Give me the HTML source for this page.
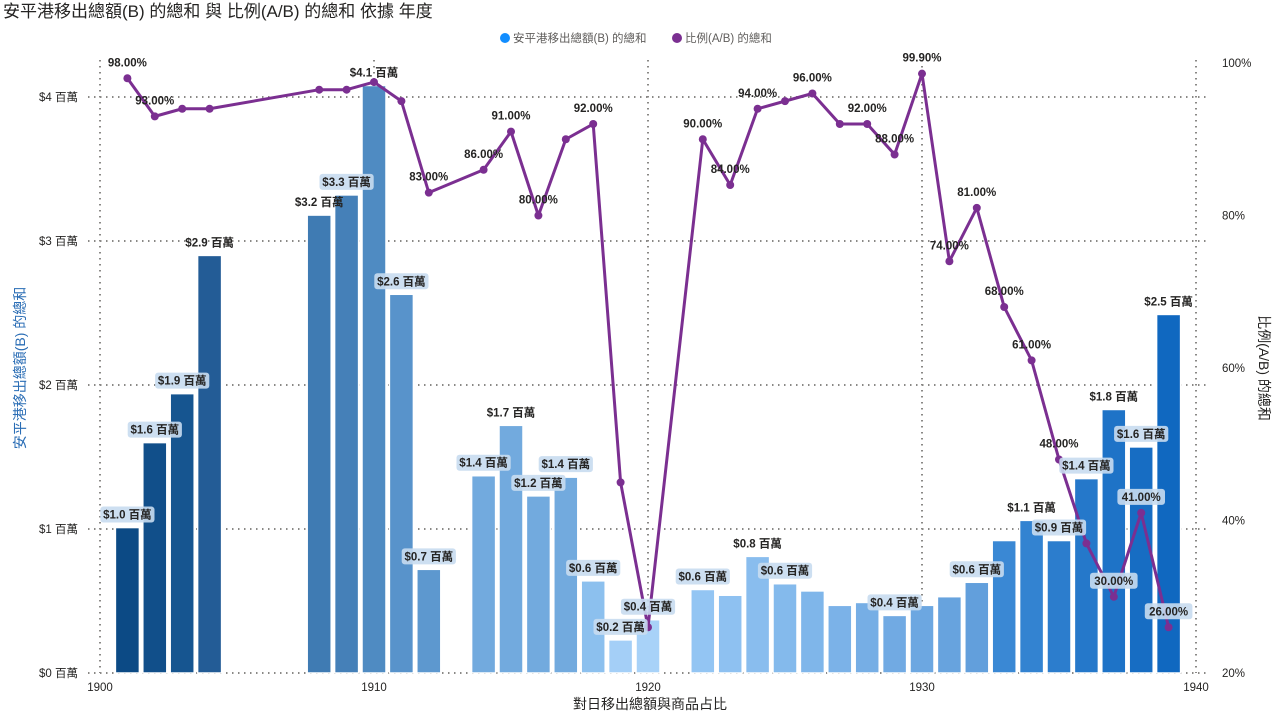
<!DOCTYPE html>
<html><head><meta charset="utf-8">
<style>
body{margin:0;background:#fff;width:1274px;height:713px;overflow:hidden;font-family:"Liberation Sans","Noto Sans CJK TC",sans-serif;}
svg text{font-family:"Liberation Sans","Noto Sans CJK TC",sans-serif;}
</style></head>
<body>
<svg id="chart" width="1274" height="713">
<text x="3" y="17" font-size="17" fill="#252423">安平港移出總額(B) 的總和 與 比例(A/B) 的總和 依據 年度</text>
<g>
<circle cx="505" cy="38" r="5" fill="#118dff"/>
<text x="513" y="42" font-size="11.5" fill="#605e5c">安平港移出總額(B) 的總和</text>
<circle cx="677" cy="38" r="5" fill="#7b2f91"/>
<text x="685" y="42" font-size="11.5" fill="#605e5c">比例(A/B) 的總和</text>
</g>
<text transform="translate(25,368) rotate(-90)" text-anchor="middle" font-size="14" fill="#2a6db5">安平港移出總額(B) 的總和</text>
<text transform="translate(1259,368) rotate(90)" text-anchor="middle" font-size="14" fill="#252423">比例(A/B) 的總和</text>
<text x="650" y="709" text-anchor="middle" font-size="14" fill="#252423">對日移出總額與商品占比</text>
<g id="grid"></g><g id="bars"></g><g id="line"></g><g id="labels"></g>
</svg>
<script>
const years=[1901,1902,1903,1904,1908,1909,1910,1911,1912,1914,1915,1916,1917,1918,1919,1920,1922,1923,1924,1925,1926,1927,1928,1929,1930,1931,1932,1933,1934,1935,1936,1937,1938,1939];
const amounts=[1.01,1.60,1.94,2.90,3.18,3.32,4.08,2.63,0.72,1.37,1.72,1.23,1.36,0.64,0.23,0.37,0.58,0.54,0.81,0.62,0.57,0.47,0.49,0.40,0.47,0.53,0.63,0.92,1.06,0.92,1.35,1.83,1.57,2.49];
const ratios=[98,93,94,94,96.5,96.5,97.5,95,83,86,91,80,90,92,45,26,90,84,94,95,96,92,92,88,98.6,74,81,68,61,48,37,30,41,26];
const ratioText=[98,93,94,94,96.5,96.5,97.5,95,83,86,91,80,90,92,45,26,90,84,94,95,96,92,92,88,99.9,74,81,68,61,48,37,30,41,26];
const amountLabelYears=[1901,1902,1903,1904,1908,1909,1910,1911,1912,1914,1915,1916,1917,1918,1919,1920,1922,1924,1925,1929,1932,1934,1935,1936,1937,1938,1939];
const ratioLabelYears=[1901,1902,1912,1914,1915,1916,1918,1922,1923,1924,1926,1928,1929,1930,1931,1932,1933,1934,1935,1937,1938,1939];
const xTicks=[1900,1910,1920,1930,1940];
const yTicksLeft=[0,1,2,3,4];
const yTicksRight=[20,40,60,80,100];

const NS="http://www.w3.org/2000/svg";
const X=y=>100+(y-1900)*27.4;
const YL=v=>673-v*144;
const YR=p=>673-(p-20)*7.625;
function mk(tag,attrs,parent,txt){const e=document.createElementNS(NS,tag);for(const k in attrs)e.setAttribute(k,attrs[k]);if(txt!==undefined)e.textContent=txt;parent.appendChild(e);return e;}
const grid=document.getElementById('grid'),bars=document.getElementById('bars'),line=document.getElementById('line'),labels=document.getElementById('labels');
const dot={stroke:"#8a8886","stroke-width":2,"stroke-dasharray":"1.5 4.5",fill:"none"};
yTicksLeft.forEach(v=>{
 const l=mk('line',Object.assign({x1:88,x2:1210,y1:YL(v),y2:YL(v)},dot),grid);
 
 
 const t=mk('text',{x:78,y:YL(v)+4,"text-anchor":"end","font-size":11.5,fill:"#252423"},grid,"$"+v+" 百萬");
 
 
});
yTicksRight.forEach(p=>{
 const t=mk('text',{x:1222,y:YR(p)+4,"font-size":11.5,fill:"#252423"},grid,p+"%");
 
 
});
xTicks.forEach(y=>{
 const l=mk('line',Object.assign({x1:X(y),x2:X(y),y1:60,y2:673},dot),grid);
 
 
 const t=mk('text',{x:X(y),y:691,"text-anchor":"middle","font-size":11.5,fill:"#252423"},grid,String(y));
 
 
});
function barColor(y){
 if(y<=1904) return ["#0c4a85","#114f8a","#165590","#235c96"][y-1901];
 if(y<=1912) return ["#3f7bb3","#4580b8","#4f8bc2","#5893cb","#5d98cf"][y-1908];
 if(y<=1917) return "#72aade";
 if(y<=1920) return ["#8cc0ee","#a4cff7","#a8d2f8"][y-1918];
 if(y<=1932){const t=(y-1922)/10;const c=[[0x93,0xc5,0xf3],[0x62,0x9f,0xdc]];return "rgb("+c[0].map((a,i)=>Math.round(a+(c[1][i]-a)*t)).join(",")+")";}
 const t=(y-1933)/6;const c=[[0x3a,0x88,0xd4],[0x10,0x68,0xc0]];return "rgb("+c[0].map((a,i)=>Math.round(a+(c[1][i]-a)*t)).join(",")+")";
}
function label(x,y,txt,boxed,name){
 const w=txt.length*6.6+8;
 if(boxed){const r=mk('rect',{x:x-w/2,y:y-11,width:w,height:16,rx:3,fill:"rgba(200,220,240,0.9)"},labels);
  
  }
 const t=mk('text',{x:x,y:y+1,"text-anchor":"middle","font-size":11.5,"font-weight":"bold",fill:"#252423"},labels,txt);
 
 
}
years.forEach((y,i)=>{
 const r=mk('rect',{x:X(y)-12,y:YL(amounts[i]),width:24,height:673-YL(amounts[i]),fill:barColor(y),stroke:"#fff","stroke-width":1.5},bars);
 
 
});
const pts=years.map((y,i)=>X(y)+","+YR(ratios[i])).join(" ");
const pl=mk('polyline',{points:pts,fill:"none",stroke:"#7b2f91","stroke-width":3,"stroke-linejoin":"round"},line);


years.forEach((y,i)=>{
 const c=mk('circle',{cx:X(y),cy:YR(ratios[i]),r:4,fill:"#7b2f91"},line);
 
 
});
const boxedBars=[1901,1902,1903,1909,1911,1912,1914,1916,1917,1918,1919,1920,1922,1925,1929,1932,1935,1936,1938];
years.forEach((y,i)=>{
 if(amountLabelYears.includes(y)){
  const v=amounts[i];
  label(X(y),YL(v)-10,"$"+v.toFixed(1)+" 百萬",boxedBars.includes(y),'bar-label-'+y);
 }
});
years.forEach((y,i)=>{
 if(ratioLabelYears.includes(y)){
  label(X(y),YR(ratios[i])-13,ratioText[i].toFixed(2)+"%",y>=1937,'ratio-label-'+y);
 }
});
</script>
</body></html>
